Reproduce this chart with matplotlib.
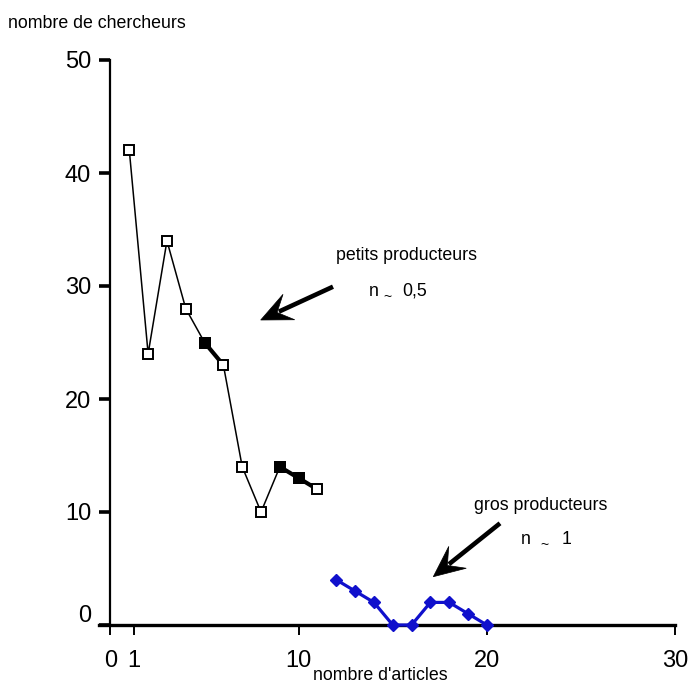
import matplotlib
matplotlib.use("Agg")
import numpy as np
import matplotlib.pyplot as plt
from matplotlib.transforms import ScaledTranslation
from matplotlib.patches import Polygon
from matplotlib.lines import Line2D

plt.rcParams['font.family'] = ['Liberation Sans', 'DejaVu Sans']

# data
petits_x = [1, 2, 3, 4, 5, 6, 7, 8, 9, 10, 11]
petits_y = [42, 24, 34, 28, 25, 23, 14, 10, 14, 13, 12]
petits_filled = [5, 9, 10]
petits_thick_segments = [[5, 6], [9, 10, 11]]
gros_x = [12, 13, 14, 15, 16, 17, 18, 19, 20]
gros_y = [4, 3, 2, 0, 0, 2, 2, 1, 0]
xticks = [0, 1.25, 10, 20, 30]
xtick_labels = ["0", "1", "10", "20", "30"]
yticks = [0, 10, 20, 30, 40, 50]
ytick_labels = ["0", "10", "20", "30", "40", "50"]

W, H = 688, 684
fig = plt.figure(figsize=(W / 100, H / 100), dpi=100)
x0, x1 = -0.6, 30
px0 = 110.5 + x0 * 18.82
px1 = 675
ax = fig.add_axes([px0 / W, (H - 625) / H, (px1 - px0) / W, 565 / H])
ax.set_xlim(x0, x1)
ax.set_ylim(0, 50)

blue = '#1010CC'

# black series: thin line
ax.plot(petits_x, petits_y, color='black', lw=1.1, zorder=2, clip_on=False)
for seg in petits_thick_segments:
    sy = [petits_y[petits_x.index(v)] for v in seg]
    ax.plot(seg, sy, color='black', lw=3.0, zorder=2, clip_on=False)
ax.plot(petits_x, petits_y, ls='none', marker='s', ms=7, mfc='white',
        mec='black', mew=1.4, zorder=3, clip_on=False)
fy = [petits_y[petits_x.index(v)] for v in petits_filled]
ax.plot(petits_filled, fy, ls='none', marker='s', ms=7, mfc='black',
        mec='black', mew=1.4, zorder=4, clip_on=False)

# blue series
ax.plot(gros_x, gros_y, color=blue, lw=2.3, marker='D', ms=6.5, mfc=blue,
        mec=blue, zorder=5, clip_on=False)

# spines
for s in ['top', 'right']:
    ax.spines[s].set_visible(False)
ax.spines['left'].set_position(('data', 0))
ax.spines['bottom'].set_position(('data', 0))
ax.spines['left'].set_linewidth(1.6)
ax.spines['bottom'].set_linewidth(2.4)

ax.set_xticks(xticks)
ax.set_xticklabels(xtick_labels)
ax.set_yticks(yticks)
ax.set_yticklabels(ytick_labels)
ax.tick_params(axis='x', direction='out', length=7, width=1.4, pad=11,
               labelsize=17, colors='black')
ax.tick_params(axis='y', direction='out', length=8, width=2.6, pad=6,
               labelsize=17, colors='black')
ax.tick_params(axis='both', which='minor', length=0)
lab0 = ax.get_yticklabels()[0]
lab0.set_transform(lab0.get_transform() + ScaledTranslation(0, 12 / 100, fig.dpi_scale_trans))

def fp(x, y):
    return (x / W, 1 - y / H)

fs = 12.8
fig.text(*fp(8, 24), "nombre de chercheurs", fontsize=fs, ha='left', va='center')
fig.text(*fp(380, 676), "nombre d'articles", fontsize=fs, ha='center', va='center')

fig.text(*fp(336.5, 256), "petits producteurs", fontsize=fs, ha='left', va='center')
fig.text(*fp(369, 291), "n", fontsize=fs, ha='left', va='center')
fig.text(*fp(383, 297), "~", fontsize=10, ha='left', va='center')
fig.text(*fp(402, 291), "0,5", fontsize=fs, ha='left', va='center')

fig.text(*fp(474.5, 506), "gros producteurs", fontsize=fs, ha='left', va='center')
fig.text(*fp(521, 540), "n", fontsize=fs, ha='left', va='center')
fig.text(*fp(540, 545), "~", fontsize=10, ha='left', va='center')
fig.text(*fp(562, 540), "1", fontsize=fs, ha='left', va='center')

def stealth_arrow(tail, tip, L=31, w=14, notch=18, lw=3.3):
    tail = np.array(tail, float)
    tip = np.array(tip, float)
    d = tail - tip
    d /= np.hypot(*d)
    p = np.array([-d[1], d[0]])
    pts = [tip, tip + d * L + p * w, tip + d * notch, tip + d * L - p * w]
    pts = [(q[0] / W, 1 - q[1] / H) for q in pts]
    fig.patches.append(Polygon(pts, closed=True, facecolor='black', edgecolor='black',
                               lw=0.5, transform=fig.transFigure, figure=fig))
    start = tip + d * (notch + 2)
    fig.lines.append(Line2D([start[0] / W, tail[0] / W], [1 - start[1] / H, 1 - tail[1] / H],
                            color='black', lw=lw, solid_capstyle='butt',
                            transform=fig.transFigure, figure=fig))

stealth_arrow((333, 286.7), (260.7, 320))
stealth_arrow((500, 523.3), (433.3, 576.7))

fig.savefig('out.png', dpi=100)
